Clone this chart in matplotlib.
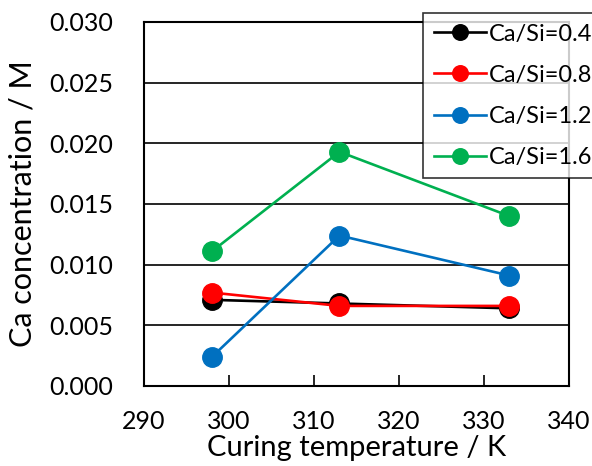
import matplotlib.pyplot as plt

plt.rcParams['font.family'] = ['Lato', 'DejaVu Sans']

temps = [298, 313, 333]
series_labels = ["Ca/Si=0.4", "Ca/Si=0.8", "Ca/Si=1.2", "Ca/Si=1.6"]
ca_04 = [0.0071, 0.0068, 0.0064]
ca_08 = [0.0077, 0.0066, 0.0066]
ca_12 = [0.0024, 0.0124, 0.0091]
ca_16 = [0.0111, 0.0193, 0.0140]
colors = ["#000000", "#FF0000", "#0070C0", "#00B050"]

fig = plt.figure(figsize=(5.92, 4.66), dpi=100)
ax = fig.add_axes([0.2432, 0.1717, 0.9611 - 0.2432, 0.9528 - 0.1717])

for vals, lab, c in zip([ca_04, ca_08, ca_12, ca_16], series_labels, colors):
    ax.plot(temps, vals, color=c, lw=1.9, marker="o", ms=14, label=lab,
            clip_on=False, zorder=3)

ax.set_xlim(290, 340)
ax.set_ylim(0, 0.030)
ax.set_xticks([290, 300, 310, 320, 330, 340])
ax.set_yticks([0.0, 0.005, 0.010, 0.015, 0.020, 0.025, 0.030])
ax.set_yticklabels([f"{v:.3f}" for v in ax.get_yticks()])
ax.yaxis.grid(True, color="black", lw=1.2)
ax.set_axisbelow(True)
ax.tick_params(axis="x", direction="in", length=8, width=1.2, labelsize=18, pad=17)
ax.tick_params(axis="y", length=0, labelsize=18, pad=22)
for s in ax.spines.values():
    s.set_linewidth(1.5)
ax.set_xlabel("Curing temperature / K", fontsize=21, labelpad=2)
ax.set_ylabel("Ca concentration / M", fontsize=22, labelpad=9)

leg = ax.legend(loc="upper left", bbox_to_anchor=(423 / 592, 1 - 13 / 466),
                bbox_transform=fig.transFigure, fontsize=17, frameon=True,
                fancybox=False, edgecolor="black", borderpad=0.45,
                handlelength=2.2, handletextpad=0.15, labelspacing=0.85,
                borderaxespad=0, markerscale=0.8)
leg.get_frame().set_linewidth(1.2)
leg.set_zorder(5)

fig.savefig("out.png", dpi=100)
